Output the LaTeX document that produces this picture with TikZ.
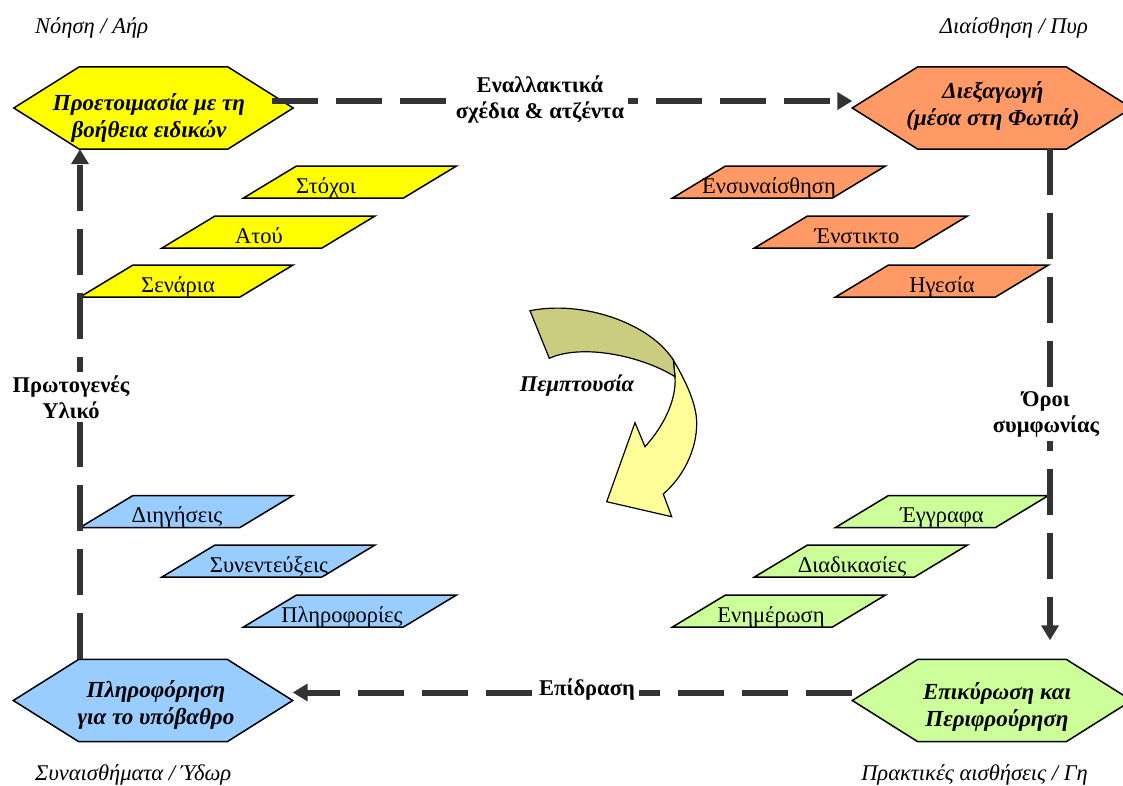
\documentclass[tikz,border=0pt]{standalone}
\usepackage{fontspec}
\setmainfont{Liberation Serif}
\usetikzlibrary{arrows.meta}
\definecolor{hexyellow}{HTML}{FFFF00}
\definecolor{hexorange}{HTML}{FF9966}
\definecolor{hexblue}{HTML}{99CCFF}
\definecolor{hexgreen}{HTML}{CCFF99}
\definecolor{connc}{HTML}{333333}
\definecolor{arrowolive}{HTML}{CCCC80}
\definecolor{arrowyellow}{HTML}{FFFF99}
\newcommand\hexat[4]{%
  \node[hexbox] (#1) at (#2,#3) {};
  \filldraw[outline, fill=#4] (#1.west) -- ([xshift=65.5pt]#1.north west) -- ([xshift=-65.5pt]#1.north east)
    -- (#1.east) -- ([xshift=-65.5pt]#1.south east) -- ([xshift=65.5pt]#1.south west) -- cycle;}
\newcommand\plgat[6]{%
  \filldraw[outline, fill=#4] (#2,#3) +(-106.5,16) -- +(53.5,16) -- +(106.5,-16) -- +(-53.5,-16) -- cycle;
  \node[plgtext] (#1) at (#5,#3+11) {#6};}
\begin{document}
\begin{tikzpicture}[x=1pt,y=-1pt,
  hexbox/.style={rectangle, minimum width=279pt, minimum height=82pt, inner sep=0pt},
  outline/.style={draw=black, line width=1.5pt, line join=miter},
  hexlabel/.style={align=center, inner sep=0pt, font=\fontsize{23}{27}\selectfont\bfseries\itshape},
  plgtext/.style={anchor=base, inner sep=0pt, font=\fontsize{22.5}{26}\selectfont},
  corner/.style={inner sep=0pt, font=\fontsize{22.5}{26}\selectfont\itshape},
  conn/.style={draw=connc, line width=6pt, dash pattern=on 46pt off 18pt, -{Triangle[length=15pt,width=17pt]}},
  connlabel/.style={fill=white, align=center, inner sep=4pt, font=\fontsize{22.5}{26}\selectfont\bfseries},
]
\useasboundingbox (0,0) rectangle (1123,785);

% hexagons
\hexat{prepHex}{153.5}{108}{hexyellow}
\hexat{condHex}{992}{108}{hexorange}
\hexat{infoHex}{153}{700.5}{hexblue}
\hexat{valHex}{992}{700.5}{hexgreen}
\node[hexlabel] (prep) at (149,118) {Προετοιμασία με τη\\βοήθεια ειδικών};
\node[hexlabel] (cond) at (993,106) {Διεξαγωγή\\(μέσα στη Φωτιά)};
\node[hexlabel] (info) at (156,705) {Πληροφόρηση\\για το υπόβαθρο};
\node[hexlabel] (val) at (997,707) {Επικύρωση και\\Περιφρούρηση};

% parallelograms
\plgat{stoxoi}{350}{182}{hexyellow}{326}{Στόχοι}
\plgat{atou}{268.5}{232}{hexyellow}{259}{Ατού}
\plgat{senaria}{186.5}{281}{hexyellow}{178}{Σενάρια}
\plgat{ensyn}{779}{182}{hexorange}{769}{Ενσυναίσθηση}
\plgat{enstikto}{861}{232}{hexorange}{857}{Ένστικτο}
\plgat{igesia}{942}{281}{hexorange}{942}{Ηγεσία}
\plgat{diigiseis}{186.5}{511.5}{hexblue}{177}{Διηγήσεις}
\plgat{synent}{268.5}{561}{hexblue}{269}{Συνεντεύξεις}
\plgat{plirof}{350}{611}{hexblue}{342}{Πληροφορίες}
\plgat{eggrafa}{942}{511.5}{hexgreen}{942}{Έγγραφα}
\plgat{diadik}{861}{561}{hexgreen}{852}{Διαδικασίες}
\plgat{enimer}{779}{611}{hexgreen}{771}{Ενημέρωση}

% connectors
\draw[conn] ([xshift=-21pt,yshift=7pt]prepHex.east) -- ([yshift=7pt]condHex.west);
\draw[conn] ([xshift=58pt]condHex.south) -- ([xshift=58pt,yshift=19pt]valHex.north);
\draw[conn] ([yshift=8pt]valHex.west) -- ([yshift=8pt]infoHex.east);
\draw[conn] ([xshift=-73pt]infoHex.north) -- ([xshift=-73.5pt]prepHex.south);

% connector labels
\node[connlabel] (alt) at (540,100) {Εναλλακτικά\\σχέδια \& ατζέντα};
\node[connlabel] (oroi) at (1046,414) {Όροι\\συμφωνίας};
\node[connlabel] (epidr) at (587,690) {Επίδραση};
\node[connlabel] (prot) at (71,397) {Πρωτογενές\\Υλικό};

% central curved arrow
\filldraw[outline, line width=1.2pt, fill=arrowyellow] (673.3,360) .. controls (685,380) and (696.7,403.3) .. (696.7,423.3)
  .. controls (696.7,450) and (683.3,476.7) .. (663.3,494) -- (671.7,516.7) -- (606.7,501.7) -- (635,422.7) -- (645,446.7)
  .. controls (663.3,426.7) and (676.7,400) .. (675,376.7) -- cycle;
\filldraw[outline, line width=1.2pt, fill=arrowolive] (530,310.7) .. controls (583.3,300) and (650,323.3) .. (673.3,360)
  -- (675,376.7) .. controls (643.3,356.7) and (583.3,343) .. (549.3,358.3) -- cycle;
\node[font=\fontsize{22.5}{26}\selectfont\bfseries\itshape, inner sep=0pt] (pempt) at (577,386) {Πεμπτουσία};

% corner labels
\node[corner, anchor=west] (noisi) at (35,28) {Νόηση / Αήρ};
\node[corner, anchor=east] (diaisth) at (1088,28) {Διαίσθηση / Πυρ};
\node[corner, anchor=west] (synais) at (35,775) {Συναισθήματα / Ύδωρ};
\node[corner, anchor=east] (prakt) at (1088,775) {Πρακτικές αισθήσεις / Γη};
\end{tikzpicture}
\end{document}
